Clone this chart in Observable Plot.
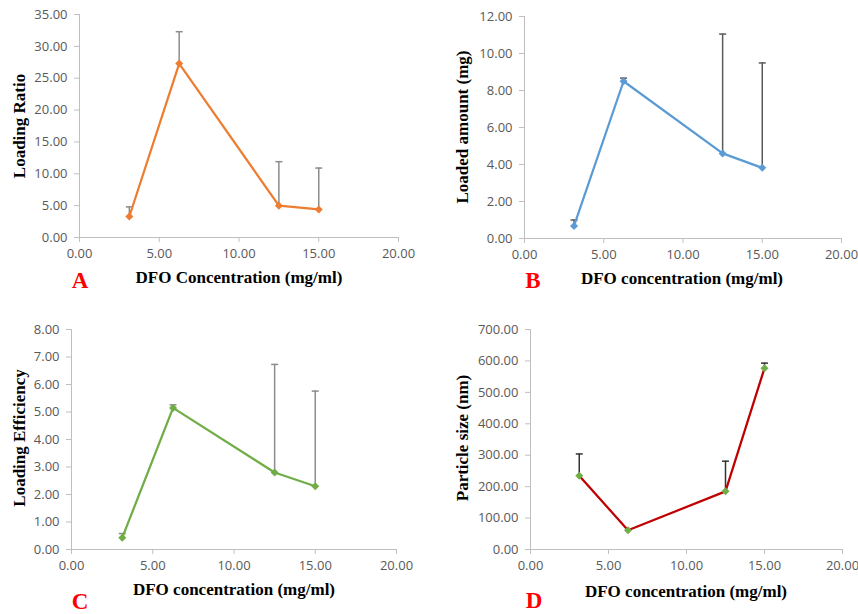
<!DOCTYPE html>
<html>
<head>
<meta charset="utf-8">
<script src="https://cdn.jsdelivr.net/npm/d3@7"></script>
<script src="https://cdn.jsdelivr.net/npm/@observablehq/plot@0.6"></script>
<style>
  body { margin: 0; background: #fff; }
  #wrap { position: relative; width: 858px; height: 614px; overflow: hidden; background: #fff; }
  .panel { position: absolute; }
  .ttl { position: absolute; font-family: "Liberation Serif", "Times New Roman", serif; font-weight: bold; font-size: 17px; color: #000; white-space: nowrap; }
  .ylab { transform: translate(-50%, -50%) rotate(-90deg); }
  .xlab { transform: translate(-50%, -50%); }
  .letter { position: absolute; font-family: "Liberation Serif", "Times New Roman", serif; font-weight: bold; font-size: 23px; color: #ff0000; transform: translate(-50%, -50%); }
</style>
</head>
<body>
<div id="wrap"></div>
<script>
// ---- data ----
const concentration = [3.125, 6.25, 12.5, 15];
const xTicks = [0, 5, 10, 15, 20];

const loadingRatio = [3.3, 27.3, 5.0, 4.4];
const loadingRatioErr = [1.5, 5.0, 6.9, 6.5];
const loadingRatioTicks = [0, 5, 10, 15, 20, 25, 30, 35];

const loadedAmount = [0.68, 8.5, 4.6, 3.82];
const loadedAmountErr = [0.32, 0.17, 6.45, 5.67];
const loadedAmountTicks = [0, 2, 4, 6, 8, 10, 12];

const loadingEfficiency = [0.43, 5.15, 2.8, 2.3];
const loadingEfficiencyErr = [0.15, 0.11, 3.93, 3.46];
const loadingEfficiencyTicks = [0, 1, 2, 3, 4, 5, 6, 7, 8];

const particleSize = [235, 61, 185, 577];
const particleSizeErr = [69, 0, 96, 16];
const particleSizeTicks = [0, 100, 200, 300, 400, 500, 600, 700];

const panels = [
  { id: "A", values: loadingRatio, errs: loadingRatioErr, ticks: loadingRatioTicks,
    yLabel: "Loading Ratio", xLabel: "DFO Concentration (mg/ml)",
    left: 0, top: 0, mL: 79, mR: 31, mT: 14, mB: 70,
    line: "#ED7D31", marker: "#ED7D31", err: "#8c8c8c",
    yLab: [20, 126], xLab: [239, 278], letter: [80, 281] },
  { id: "B", values: loadedAmount, errs: loadedAmountErr, ticks: loadedAmountTicks,
    yLabel: "Loaded amount (mg)", xLabel: "DFO concentration (mg/ml)",
    left: 429, top: 0, mL: 95, mR: 17, mT: 16, mB: 69,
    line: "#5B9BD5", marker: "#5B9BD5", err: "#5a5a5a",
    yLab: [463, 127], xLab: [682, 279], letter: [533, 281] },
  { id: "C", values: loadingEfficiency, errs: loadingEfficiencyErr, ticks: loadingEfficiencyTicks,
    yLabel: "Loading Efficiency", xLabel: "DFO concentration (mg/ml)",
    left: 0, top: 307, mL: 71, mR: 33, mT: 22, mB: 65,
    line: "#70AD47", marker: "#70AD47", err: "#8c8c8c",
    yLab: [20, 438], xLab: [234, 590], letter: [80, 602] },
  { id: "D", values: particleSize, errs: particleSizeErr, ticks: particleSizeTicks,
    yLabel: "Particle size (nm)", xLabel: "DFO concentration (mg/ml)",
    left: 429, top: 307, mL: 101, mR: 16, mT: 22, mB: 65,
    line: "#C00000", marker: "#70AD47", err: "#333333",
    yLab: [463, 438], xLab: [686, 592], letter: [534, 601] }
];

const diamond = {
  draw(ctx, size) {
    const h = Math.sqrt(size / 2);
    ctx.moveTo(0, -h); ctx.lineTo(h, 0); ctx.lineTo(0, h); ctx.lineTo(-h, 0); ctx.closePath();
  }
};
const cap = {
  draw(ctx, size) {
    ctx.moveTo(-3.5, 0); ctx.lineTo(3.5, 0);
  }
};

const wrap = document.getElementById("wrap");
const fmt = d => d.toFixed(2);
const axisGray = "#bfbfbf";
const textGray = "#595959";

for (const p of panels) {
  const rows = concentration.map((c, i) => ({ x: c, y: p.values[i], hi: p.values[i] + p.errs[i], e: p.errs[i] }));
  const withErr = rows.filter(d => d.e > 0);
  const yMax = p.ticks[p.ticks.length - 1];
  const chart = Plot.plot({
    width: 429,
    height: 307,
    marginLeft: p.mL, marginRight: p.mR, marginTop: p.mT, marginBottom: p.mB,
    style: { fontFamily: "'Open Sans', sans-serif", fontSize: "13px", color: textGray, background: "#fff" },
    x: { domain: [0, 20] },
    y: { domain: [0, yMax] },
    marks: [
      Plot.ruleX([0], { stroke: axisGray }),
      Plot.ruleY([0], { stroke: axisGray }),
      Plot.axisX({ ticks: xTicks, tickFormat: fmt, tickSize: 5, tickPadding: 6, stroke: axisGray, fill: textGray, label: null }),
      Plot.axisY({ ticks: p.ticks, tickFormat: fmt, tickSize: 5, tickPadding: 7, stroke: axisGray, fill: textGray, label: null }),
      Plot.ruleX(withErr, { x: "x", y1: "y", y2: "hi", stroke: p.err, strokeWidth: 1.5 }),
      Plot.dot(withErr, { x: "x", y: "hi", symbol: cap, r: 3, stroke: p.err, strokeWidth: 1.5 }),
      Plot.line(rows, { x: "x", y: "y", stroke: p.line, strokeWidth: 2.25 }),
      Plot.dot(rows, { x: "x", y: "y", symbol: diamond, r: 3.2, fill: p.marker, stroke: "none" })
    ]
  });
  const div = document.createElement("div");
  div.className = "panel";
  div.style.left = p.left + "px";
  div.style.top = p.top + "px";
  div.appendChild(chart);
  wrap.appendChild(div);

  const yl = document.createElement("div");
  yl.className = "ttl ylab";
  yl.textContent = p.yLabel;
  yl.style.left = p.yLab[0] + "px";
  yl.style.top = p.yLab[1] + "px";
  wrap.appendChild(yl);

  const xl = document.createElement("div");
  xl.className = "ttl xlab";
  xl.textContent = p.xLabel;
  xl.style.left = p.xLab[0] + "px";
  xl.style.top = p.xLab[1] + "px";
  wrap.appendChild(xl);

  const lt = document.createElement("div");
  lt.className = "letter";
  lt.textContent = p.id;
  lt.style.left = p.letter[0] + "px";
  lt.style.top = p.letter[1] + "px";
  wrap.appendChild(lt);
}
</script>
</body>
</html>
